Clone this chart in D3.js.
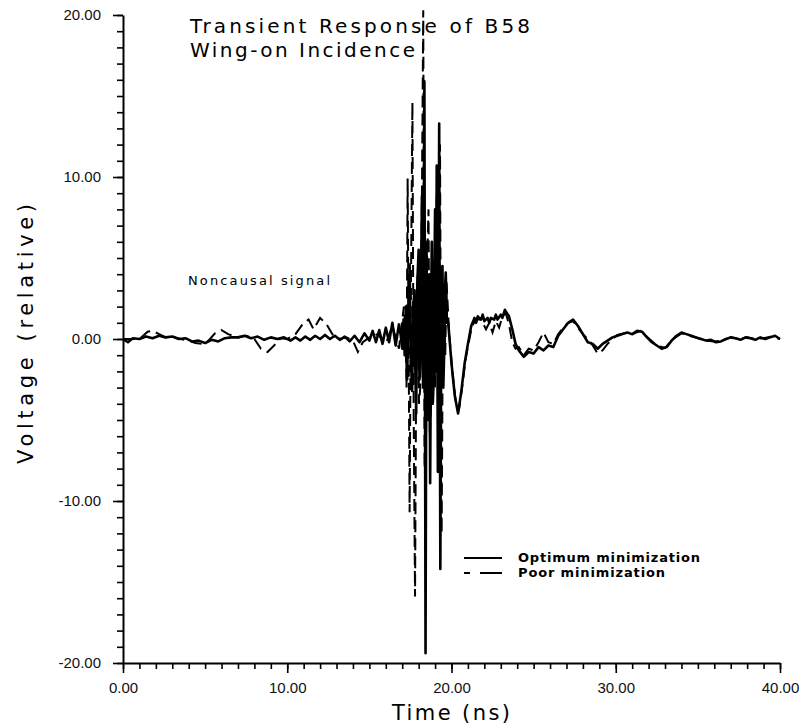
<!DOCTYPE html>
<html>
<head>
<meta charset="utf-8">
<script src="https://d3js.org/d3.v7.min.js"></script>
<style>
	body { margin: 0; background: #fff; }
	svg { display: block; font-family: "DejaVu Sans", sans-serif; }
	.tick text { font-size: 15px; fill: #111; }
	.domain { stroke: #000; stroke-width: 2; }
	.tick line { stroke: #000; stroke-width: 1.6; }
</style>
</head>
<body>
<div id="svg-container"></div>
<script>

// DATA
// time (ns), voltage (relative)
const optimum = [
	[0, 0], [0.3, -0.2], [0.6, 0.05], [1.0, 0], [1.4, 0.15], [1.8, 0.05], [2.2, 0.2], [2.6, 0.1],
	[3.0, 0.15], [3.4, 0], [3.8, 0.05], [4.2, -0.15], [4.6, -0.1], [5.0, -0.25], [5.4, -0.05], [5.8, -0.15],
	[6.2, 0.05], [6.6, 0.1], [7.0, 0.1], [7.4, 0.2], [7.8, 0.05], [8.2, 0.15], [8.6, -0.05], [9.0, 0.1],
	[9.4, 0], [9.8, 0.1], [10.2, -0.1], [10.5, 0.1], [10.8, -0.1], [11.1, 0.15], [11.4, -0.05], [11.7, 0.2],
	[12.0, 0], [12.3, 0.25], [12.6, 0], [12.9, 0.2], [13.2, -0.05], [13.5, 0.15], [13.8, -0.15], [14.1, 0.2],
	[14.4, -0.2], [14.7, 0.35], [15.0, -0.1], [15.2, 0.5], [15.4, -0.2], [15.6, 0.55], [15.8, -0.3], [16.0, 0.7],
	[16.2, -0.2], [16.4, 1.0], [16.6, -0.4], [16.8, 0.9], [16.9, 0.3], [17.0, -0.6], [17.08, 1.2], [17.15, -1.0],
	[17.22, 2.0], [17.3, -2.5], [17.37, 1.5], [17.45, 4.6], [17.52, -1.0], [17.6, -3.2], [17.67, 2.0], [17.75, 3.0],
	[17.8, -2.0], [17.85, -4.6], [17.92, 3.5], [18.0, 5.5], [18.05, -2.5], [18.1, -1.5], [18.15, 4], [18.2, 8.8],
	[18.27, -3], [18.35, 15.9], [18.42, -19.4], [18.48, 6], [18.53, -2], [18.6, -5], [18.65, 4], [18.7, -8.9],
	[18.76, 2], [18.8, 6], [18.86, -4], [18.9, -3], [18.95, 3], [19.0, 8], [19.05, -2], [19.1, 10.7],
	[19.17, -8.2], [19.25, 13.3], [19.32, -14.2], [19.38, 2], [19.45, 4.5], [19.5, -3], [19.55, -1], [19.6, 3],
	[19.65, 4.1], [19.72, 1], [19.8, 1.0], [20.0, -1.5], [20.2, -3.5], [20.4, -4.6], [20.6, -3.2], [20.8, -1.5],
	[21.0, -0.3], [21.2, 0.8], [21.4, 1.3], [21.5, 1.0], [21.6, 1.4], [21.8, 1.2], [21.9, 1.5], [22.0, 1.1],
	[22.2, 1.3], [22.3, 1.0], [22.4, 1.3], [22.6, 1.2], [22.7, 1.5], [22.8, 1.2], [23.0, 1.5], [23.1, 1.3],
	[23.25, 1.8], [23.5, 1.4], [23.7, 0.6], [23.9, -0.3], [24.1, -0.7], [24.4, -1.1], [24.7, -0.8], [25.0, -0.9],
	[25.3, -0.5], [25.6, -0.7], [25.9, -0.4], [26.2, -0.5], [26.5, 0.2], [26.8, 0.6], [27.1, 1.0], [27.4, 1.2],
	[27.7, 0.8], [28.0, 0.3], [28.3, -0.2], [28.6, -0.3], [28.9, -0.6], [29.2, -0.3], [29.5, -0.1], [29.8, 0.1],
	[30.1, 0.2], [30.4, 0.3], [30.7, 0.4], [31.0, 0.3], [31.3, 0.5], [31.6, 0.45], [31.9, 0.1], [32.2, -0.2],
	[32.5, -0.4], [32.8, -0.6], [33.1, -0.5], [33.4, -0.1], [33.7, 0.2], [34.0, 0.4], [34.3, 0.3], [34.6, 0.2],
	[34.9, 0.1], [35.2, 0], [35.5, -0.1], [35.8, -0.05], [36.1, -0.2], [36.4, -0.15], [36.7, 0], [37.0, 0.1],
	[37.3, 0.05], [37.6, -0.05], [37.9, 0.1], [38.2, 0.05], [38.5, -0.05], [38.8, 0.1], [39.1, 0], [39.4, 0.1],
	[39.7, 0.2], [40.0, 0]
];
const poor = [
	[0, 0], [0.5, 0], [1.0, 0], [1.5, 0.45], [1.8, 0.5], [2.2, 0.3], [2.6, 0.1], [3.0, 0.15],
	[3.5, 0], [4.0, -0.1], [4.4, -0.25], [4.8, -0.3], [5.2, -0.1], [5.6, 0.35], [6.0, 0.55], [6.4, 0.3],
	[7.0, 0.1], [7.5, 0.2], [8.0, 0], [8.4, -0.6], [8.8, -0.8], [9.2, -0.4], [9.6, 0.05], [10.0, 0],
	[10.5, 0.3], [11.0, 1.0], [11.3, 1.2], [11.6, 0.6], [12.0, 1.3], [12.4, 0.9], [12.8, 0.2], [13.2, 0],
	[13.6, 0.1], [14.0, -0.1], [14.3, -0.8], [14.6, -0.2], [15.0, 0.1], [15.5, 0.3], [16.0, -0.3], [16.4, 0.8],
	[16.8, -0.6], [17.1, 2.0], [17.2, 0.5], [17.26, -3], [17.33, 9.9], [17.4, -2], [17.45, -10.7], [17.53, 3],
	[17.62, 14.6], [17.7, -5], [17.78, -15.9], [17.87, 2], [17.95, 4], [18.02, -4], [18.1, -3], [18.18, 6],
	[18.28, 20.3], [18.36, -8], [18.45, -6], [18.52, 5], [18.6, 8], [18.68, -6], [18.75, -4], [18.82, 3],
	[18.9, 5], [19.0, -3], [19.1, 9], [19.2, -7], [19.3, 12], [19.4, -12], [19.48, 2], [19.55, 3],
	[19.62, -1], [19.7, 3.5], [19.85, 0.5], [20.05, -2], [20.25, -3.8], [20.45, -4.4], [20.65, -3], [20.85, -1.3],
	[21.05, -0.2], [21.25, 0.8], [21.5, 1.2], [21.8, 1.2], [22.1, 0.6], [22.3, 1.0], [22.5, 0.4], [22.7, 1.1],
	[22.9, 0.7], [23.1, 1.4], [23.3, 1.6], [23.5, 0.9], [23.7, -0.2], [23.9, -0.6], [24.1, -0.5], [24.4, -1.0],
	[24.7, -0.6], [25.0, -0.7], [25.3, -0.2], [25.6, 0.4], [25.9, -0.2], [26.2, -0.3], [26.5, 0.3], [26.8, 0.7],
	[27.1, 1.0], [27.4, 1.1], [27.7, 0.7], [28.0, 0.3], [28.3, 0], [28.6, -0.4], [28.9, -0.9], [29.2, -0.7],
	[29.5, -0.3], [29.8, 0], [30.1, 0.25], [30.5, 0.35], [31.0, 0.3], [31.5, 0.5], [32.0, 0.05], [32.5, -0.4],
	[33.0, -0.55], [33.5, 0], [34.0, 0.35], [34.5, 0.2], [35.0, 0.05], [35.5, -0.1], [36.0, -0.15], [36.5, -0.1],
	[37.0, 0.1], [37.5, 0], [38.0, 0.1], [38.5, 0], [39.0, 0.05], [39.5, 0.15], [40.0, 0]
];

// axes
const xMajor = [0, 10, 20, 30, 40];
const yMajor = [-20, -10, 0, 10, 20];
const xMinor = d3.range(0, 41, 1);
const yMinor = d3.range(-20, 21, 1);

// texts
const titleLines = ["Transient Response of B58", "Wing-on Incidence"];
const xLabel = "Time (ns)";
const yLabel = "Voltage (relative)";
const note = "Noncausal signal";
const legendNames = ["Optimum minimization", "Poor minimization"];


// CHART
function drawChart() {
	const w = 805;
	const h = 728;

	// scales
	const xScale = d3.scaleLinear().domain([0, 40]).range([123, 780]);
	const yScale = d3.scaleLinear().domain([-20, 20]).range([663, 15]);

	const svg = d3.select("#svg-container")
		.append("svg")
		.attr("width", w)
		.attr("height", h);

	// minor ticks
	svg.append("g")
		.attr("transform", `translate(0, ${yScale(-20)})`)
		.call(d3.axisBottom(xScale).tickValues(xMinor).tickSize(6).tickFormat(""))
		.call(g => g.select(".domain").remove());
	svg.append("g")
		.attr("transform", `translate(${xScale(0)}, 0)`)
		.call(d3.axisLeft(yScale).tickValues(yMinor).tickSize(6).tickFormat(""))
		.call(g => g.select(".domain").remove());

	// major ticks + labels
	svg.append("g")
		.attr("id", "x-axis")
		.attr("transform", `translate(0, ${yScale(-20)})`)
		.call(d3.axisBottom(xScale).tickValues(xMajor).tickSize(10).tickSizeOuter(0).tickPadding(9)
			.tickFormat(d => d.toFixed(2)));
	svg.append("g")
		.attr("id", "y-axis")
		.attr("transform", `translate(${xScale(0)}, 0)`)
		.call(d3.axisLeft(yScale).tickValues(yMajor).tickSize(10).tickSizeOuter(0).tickPadding(12)
			.tickFormat(d => d.toFixed(2)));

	// axis titles
	svg.append("text")
		.text(xLabel)
		.attr("x", 451)
		.attr("y", 720)
		.attr("text-anchor", "middle")
		.attr("textLength", 118)
		.style("font-size", "21px");
	svg.append("text")
		.text(yLabel)
		.attr("transform", "translate(33, 334) rotate(-90)")
		.attr("text-anchor", "middle")
		.attr("textLength", 260)
		.style("font-size", "21px");

	// lines
	const line = d3.line()
		.x(d => xScale(d[0]))
		.y(d => yScale(d[1]));
	svg.append("path")
		.datum(poor)
		.attr("d", line)
		.attr("fill", "none")
		.attr("stroke", "#000")
		.attr("stroke-width", 2)
		.attr("stroke-dasharray", "12,6");
	svg.append("path")
		.datum(optimum)
		.attr("d", line)
		.attr("fill", "none")
		.attr("stroke", "#000")
		.attr("stroke-width", 2.6)
		.attr("stroke-linejoin", "round");

	// title
	svg.append("text")
		.text(titleLines[0])
		.attr("x", 190)
		.attr("y", 33)
		.attr("textLength", 340)
		.style("font-size", "20px");
	svg.append("text")
		.text(titleLines[1])
		.attr("x", 190)
		.attr("y", 57)
		.attr("textLength", 225)
		.style("font-size", "20px");

	// annotation
	svg.append("text")
		.text(note)
		.attr("x", 188)
		.attr("y", 285)
		.attr("textLength", 142)
		.style("font-size", "13px");

	// legend
	const legend = svg.append("g");
	legend.append("line")
		.attr("x1", 464).attr("x2", 502)
		.attr("y1", 558).attr("y2", 558)
		.attr("stroke", "#000").attr("stroke-width", 2);
	legend.append("line")
		.attr("x1", 464).attr("x2", 502)
		.attr("y1", 573).attr("y2", 573)
		.attr("stroke", "#000").attr("stroke-width", 2)
		.attr("stroke-dasharray", "6,10,22");
	legend.selectAll("text")
		.data(legendNames)
		.enter()
		.append("text")
		.text(d => d)
		.attr("x", 518)
		.attr("y", (d, i) => 562 + i * 15)
		.attr("textLength", (d, i) => i === 0 ? 182 : 147)
		.style("font-size", "13px")
		.style("font-weight", "bold");
}

document.addEventListener('DOMContentLoaded', () => {
	drawChart();
});
</script>
</body>
</html>
